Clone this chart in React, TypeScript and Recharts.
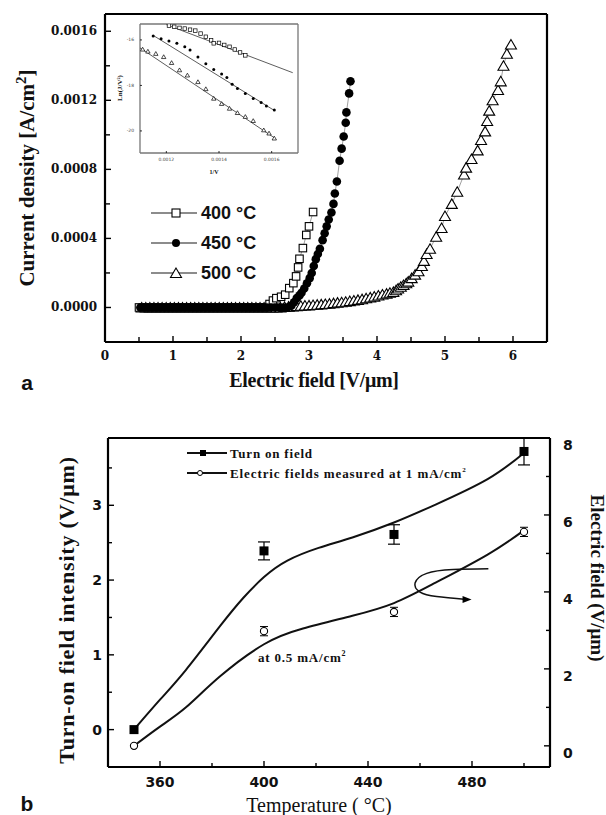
import React from 'react';
import {
  ScatterChart,
  Scatter,
  ComposedChart,
  Line,
  XAxis,
  YAxis,
  ReferenceLine,
  ErrorBar,
} from 'recharts';

// ---------- panel a: J-E curves, [field V/um, current density A/cm2] ----------
const curve400: [number, number][] = [
  [0.5, 0], [0.56, 0], [0.62, 0], [0.68, 0], [0.74, 0], [0.8, 0], [0.86, 0], [0.92, 0],
  [0.98, 0], [1.04, 0], [1.1, 0], [1.16, 0], [1.22, 0], [1.28, 0], [1.34, 0], [1.4, 0],
  [1.46, 0], [1.52, 0], [1.58, 0], [1.64, 0], [1.7, 0], [1.76, 0], [1.82, 0], [1.88, 0],
  [1.94, 0], [2.0, 0], [2.06, 0], [2.12, 0], [2.18, 0], [2.24, 0], [2.3, 0], [2.36, 0],
  [2.42, 0.00002], [2.47, 0.00004], [2.52, 0.000054], [2.59, 0.000062], [2.65, 0.000074],
  [2.71, 0.000112], [2.77, 0.000141], [2.81, 0.00018], [2.84, 0.000232], [2.86, 0.000282],
  [2.91, 0.000344], [2.96, 0.00042], [3.0, 0.00047], [3.06, 0.000553],
];

const curve450: [number, number][] = [
  [0.52, 0], [0.58, 0], [0.64, 0], [0.7, 0], [0.76, 0], [0.82, 0], [0.88, 0], [0.94, 0],
  [1.0, 0], [1.06, 0], [1.12, 0], [1.18, 0], [1.24, 0], [1.3, 0], [1.36, 0], [1.42, 0],
  [1.48, 0], [1.54, 0], [1.6, 0], [1.66, 0], [1.72, 0], [1.78, 0], [1.84, 0], [1.9, 0],
  [1.96, 0], [2.02, 0], [2.08, 0], [2.14, 0], [2.2, 0], [2.26, 0], [2.32, 0], [2.38, 0],
  [2.44, 0], [2.5, 0], [2.56, 0], [2.62, 0], [2.68, 0], [2.74, 0.00001],
  [2.78, 0.00003], [2.82, 0.000054], [2.86, 0.00007], [2.89, 0.000085], [2.93, 0.00011],
  [2.97, 0.00014], [3.01, 0.00017], [3.04, 0.0002], [3.07, 0.00024], [3.1, 0.00028],
  [3.13, 0.00031], [3.16, 0.00034], [3.2, 0.00039], [3.23, 0.00043], [3.26, 0.00047],
  [3.29, 0.00051], [3.33, 0.00055], [3.36, 0.0006], [3.38, 0.00066], [3.41, 0.00073],
  [3.45, 0.00085], [3.48, 0.00092], [3.51, 0.00099], [3.54, 0.00107], [3.55, 0.00113],
  [3.59, 0.00124], [3.61, 0.00131],
];

const curve500: [number, number][] = [
  [0.54, 0], [0.6, 0], [0.66, 0], [0.72, 0], [0.78, 0], [0.84, 0], [0.9, 0], [0.96, 0],
  [1.02, 0], [1.08, 0], [1.14, 0], [1.2, 0], [1.26, 0], [1.32, 0], [1.38, 0], [1.44, 0],
  [1.5, 0], [1.56, 0], [1.62, 0], [1.68, 0], [1.74, 0], [1.8, 0], [1.86, 0], [1.92, 0],
  [1.98, 0], [2.04, 0], [2.1, 0], [2.16, 0], [2.22, 0], [2.28, 0], [2.34, 0], [2.4, 0],
  [2.46, 0], [2.52, 0], [2.58, 0], [2.64, 0.000003], [2.7, 0.000005], [2.76, 0.000006],
  [2.82, 0.000008], [2.88, 0.00001], [2.94, 0.000011], [3.0, 0.000012], [3.06, 0.000014],
  [3.12, 0.000016], [3.18, 0.000018], [3.24, 0.00002], [3.3, 0.000022], [3.36, 0.000025],
  [3.42, 0.000028], [3.48, 0.00003], [3.54, 0.000033], [3.6, 0.000037], [3.66, 0.00004],
  [3.72, 0.000044], [3.78, 0.000048], [3.84, 0.000053], [3.9, 0.000058], [3.96, 0.000063],
  [4.02, 0.000069], [4.08, 0.000075], [4.14, 0.00008], [4.19, 0.000085], [4.24, 0.00009],
  [4.28, 0.0001], [4.31, 0.00011], [4.35, 0.00012], [4.39, 0.00013], [4.43, 0.00014],
  [4.46, 0.00015], [4.51, 0.00017], [4.56, 0.00019], [4.61, 0.00021], [4.66, 0.00024],
  [4.69, 0.00027], [4.73, 0.00031], [4.78, 0.00034], [4.87, 0.00041], [4.95, 0.00046],
  [5.0, 0.00053], [5.1, 0.0006], [5.18, 0.00067], [5.28, 0.00077], [5.31, 0.00081],
  [5.39, 0.00086], [5.48, 0.00091], [5.53, 0.00097], [5.59, 0.00102], [5.62, 0.00108],
  [5.65, 0.00114], [5.7, 0.0012], [5.78, 0.00126], [5.82, 0.00131], [5.86, 0.0014],
  [5.91, 0.00147], [5.97, 0.001523],
];

const fieldTicks = [0, 0.5, 1, 1.5, 2, 2.5, 3, 3.5, 4, 4.5, 5, 5.5, 6];
const currentTicks = [0, 0.0002, 0.0004, 0.0006, 0.0008, 0.001, 0.0012, 0.0014, 0.0016];

// inset: ln(J/V^2) vs 1/V
const fn400: [number, number][] = [
  [0.00121, -15.37], [0.00123, -15.42], [0.00125, -15.47], [0.00127, -15.5], [0.00129, -15.55],
  [0.00131, -15.59], [0.00133, -15.72], [0.00135, -15.86], [0.00137, -16.02], [0.00138, -16.15],
  [0.0014, -16.13], [0.00142, -16.22], [0.00144, -16.3], [0.00146, -16.42], [0.00148, -16.55],
  [0.0015, -16.68],
];
const fn450: [number, number][] = [
  [0.00115, -15.83], [0.00118, -15.95], [0.00121, -16.05], [0.00124, -16.15], [0.00127, -16.3],
  [0.00129, -16.44], [0.00132, -16.75], [0.00135, -17.05], [0.00138, -17.3], [0.00141, -17.5],
  [0.00143, -17.65], [0.00145, -17.95], [0.00147, -18.13], [0.0015, -18.35], [0.00153, -18.57],
  [0.00156, -18.75], [0.00158, -18.9], [0.00161, -19.08],
];
const fn500: [number, number][] = [
  [0.00111, -16.41], [0.00113, -16.5], [0.00116, -16.6], [0.00119, -16.74], [0.00122, -17.0],
  [0.00125, -17.32], [0.00128, -17.55], [0.00132, -17.84], [0.00135, -18.15], [0.00138, -18.57],
  [0.00141, -18.8], [0.00144, -19.01], [0.00147, -19.2], [0.0015, -19.37], [0.00153, -19.55],
  [0.00157, -19.96], [0.00159, -20.1], [0.00161, -20.32],
];
const fnFit400: [number, number][] = [[0.0012, -15.33], [0.00168, -17.44]];
const fnFit450: [number, number][] = [[0.00115, -15.8], [0.00161, -19.1]];
const fnFit500: [number, number][] = [[0.0011, -16.35], [0.00161, -20.3]];
const fnXTicks = [0.0012, 0.0014, 0.0016];
const fnYTicks = [-16, -18, -20];

// ---------- panel b: turn-on field vs temperature ----------
const temps = [350, 400, 450, 500];
const turnOn = [0, 2.39, 2.61, 3.72];
const turnOnErr = [0, 0.12, 0.13, 0.18];
const field1mA = [0, 2.98, 3.48, 5.56];
const field1mAErr = [0, 0.12, 0.12, 0.12];

const turnOnFit: [number, number][] = [
  [350, 0], [360, 0.4], [370, 0.8], [383, 1.38], [392, 1.76], [400, 2.04], [409, 2.26],
  [421, 2.43], [434, 2.57], [450, 2.77], [466, 3.01], [486, 3.35], [500, 3.7],
];
const fieldFit: [number, number][] = [
  [350, 0], [360, 0.5], [370, 1.0], [383, 1.8], [400, 2.64], [415, 3.05], [434, 3.38],
  [450, 3.71], [466, 4.24], [486, 4.97], [500, 5.6],
];
// hand-drawn loop arrow (left axis units)
const arrowPath: [number, number][] = [
  [486.3, 2.15], [472.8, 2.14], [462.6, 2.09], [458.1, 1.96], [460, 1.84], [466.4, 1.78], [477.9, 1.74],
];

const tempTicks = [360, 380, 400, 420, 440, 460, 480, 500];
const leftTicks = [0, 0.5, 1, 1.5, 2, 2.5, 3, 3.5];
const rightTicks = [0, 1, 2, 3, 4, 5, 6, 7, 8];

const xy = (pts: [number, number][]) => pts.map(([x, y]) => ({ x, y }));

const turnOnData = temps.map((x, i) => ({ x, y: turnOn[i], err: turnOnErr[i] }));
const field1mAData = temps.map((x, i) => ({ x, y: field1mA[i], err: field1mAErr[i] }));

// ---------- helpers ----------
// inward tick mark + label; recharts passes its own x/y/width, so stroke width is "lw"
function Tick(props: any) {
  const { x, y, payload, side, major, label, font, long = 7, short = 4, gap = 12, dy = 0, lw = 1.4 } = props;
  const v = payload.value;
  const isMajor = major(v);
  const len = isMajor ? long : short;
  const text = isMajor && label ? label(v) : null;
  if (side === 'bottom') {
    return (
      <g>
        <line x1={x} x2={x} y1={y} y2={y - len} stroke="#000" strokeWidth={lw} />
        {text !== null && (
          <text x={x} y={y + gap} textAnchor="middle" dominantBaseline="central" style={font}>{text}</text>
        )}
      </g>
    );
  }
  if (side === 'left') {
    return (
      <g>
        <line x1={x} x2={x + len} y1={y} y2={y} stroke="#000" strokeWidth={lw} />
        {text !== null && (
          <text x={x - gap} y={y + dy} textAnchor="end" dominantBaseline="central" style={font}>{text}</text>
        )}
      </g>
    );
  }
  return (
    <g>
      <line x1={x} x2={x - len} y1={y} y2={y} stroke="#000" strokeWidth={lw} />
      {text !== null && (
        <text x={x + gap} y={y + dy} textAnchor="start" dominantBaseline="central" style={font}>{text}</text>
      )}
    </g>
  );
}

const openSquare = (s: number, w = 1.1) => (p: any) => (
  <rect x={p.cx - s / 2} y={p.cy - s / 2} width={s} height={s} fill="#fff" stroke="#000" strokeWidth={w} />
);
const filledSquare = (s: number) => (p: any) => (
  <rect x={p.cx - s / 2} y={p.cy - s / 2} width={s} height={s} fill="#000" />
);
const filledCircle = (r: number) => (p: any) => <circle cx={p.cx} cy={p.cy} r={r} fill="#000" />;
const openCircle = (r: number, w = 1.1) => (p: any) => (
  <circle cx={p.cx} cy={p.cy} r={r} fill="#fff" stroke="#000" strokeWidth={w} />
);
const openTriangle = (s: number, w = 1.1) => (p: any) => (
  <polygon
    points={`${p.cx},${p.cy - s * 0.5} ${p.cx - s * 0.55},${p.cy + s * 0.45} ${p.cx + s * 0.55},${p.cy + s * 0.45}`}
    fill="#fff"
    stroke="#000"
    strokeWidth={w}
  />
);
const noShape = () => <g />;
const arrowHead = (p: any) => (
  <polygon points={`${p.cx + 5},${p.cy} ${p.cx - 4},${p.cy - 3.5} ${p.cx - 4},${p.cy + 3.5}`} fill="#000" />
);

const Txt = ({ x, y, rotate = 0, left = false, style, children }: any) => (
  <div
    style={{
      position: 'absolute',
      left: x,
      top: y,
      transform: `translate(${left ? '0' : '-50%'}, -50%) rotate(${rotate}deg)`,
      whiteSpace: 'nowrap',
      lineHeight: 1,
      ...style,
    }}
  >
    {children}
  </div>
);

const serifBold = { fontFamily: '"Liberation Serif", serif', fontWeight: 700, color: '#111' };
const serif = { fontFamily: '"Liberation Serif", serif', fontWeight: 400, color: '#111' };
const aTick = { fontFamily: '"DejaVu Serif", serif', fontWeight: 700, fontSize: 12, fill: '#111' };
const bTick = { fontFamily: '"DejaVu Sans", sans-serif', fontWeight: 700, fontSize: 14, fill: '#111' };
const inTick = { fontFamily: '"DejaVu Sans", sans-serif', fontSize: 4.5, fill: '#444' };

const LegendMark = ({ kind, w = 48, mx = 26, size = 8, stroke = '#666', sw = 1.5 }: any) => (
  <svg width={w} height={14} style={{ display: 'block' }}>
    <line x1={0} x2={w} y1={7} y2={7} stroke={stroke} strokeWidth={sw} />
    {kind === 'square' && (
      <rect x={mx - size / 2} y={7 - size / 2} width={size} height={size} fill="#fff" stroke="#000" strokeWidth={1.1} />
    )}
    {kind === 'fsquare' && <rect x={mx - size / 2} y={7 - size / 2} width={size} height={size} fill="#000" />}
    {kind === 'circle' && <circle cx={mx} cy={7} r={size / 2} fill="#000" />}
    {kind === 'ocircle' && <circle cx={mx} cy={7} r={size / 2} fill="#fff" stroke="#000" strokeWidth={1} />}
    {kind === 'triangle' && (
      <polygon
        points={`${mx},${7 - size * 0.5} ${mx - size * 0.55},${7 + size * 0.45} ${mx + size * 0.55},${7 + size * 0.45}`}
        fill="#fff"
        stroke="#000"
        strokeWidth={1.1}
      />
    )}
  </svg>
);

const frame = (w: number, c = '#000') => ({ stroke: c, strokeWidth: w });
const axisBase = { tickLine: false, tickSize: 0, tickMargin: 0, interval: 0 as const, allowDataOverflow: true };

function PanelA() {
  const line = { stroke: '#777', strokeWidth: 0.7 };
  return (
    <div style={{ position: 'absolute', left: 0, top: 0 }}>
      <ScatterChart width={606} height={420} margin={{ top: 14, right: 59, bottom: 48, left: 45 }}>
        <XAxis
          {...axisBase}
          axisLine={frame(2.2)}
          type="number"
          dataKey="x"
          domain={[0, 6.5]}
          ticks={fieldTicks}
          height={30}
          tick={
            <Tick side="bottom" font={aTick} gap={14} long={6} short={5}
              major={(v: number) => Math.abs(v - Math.round(v)) < 1e-6} label={(v: number) => String(v)} />
          }
        />
        <YAxis
          {...axisBase}
          axisLine={frame(2.2)}
          type="number"
          dataKey="y"
          domain={[-0.0002, 0.0017]}
          ticks={currentTicks}
          width={60}
          tick={
            <Tick side="left" font={aTick} gap={8} long={6} short={5}
              major={(v: number) => Math.round(v / 0.0002) % 2 === 0} label={(v: number) => v.toFixed(4)} />
          }
        />
        <ReferenceLine y={0.0017} stroke="#000" strokeWidth={2.2} />
        <ReferenceLine x={6.5} stroke="#000" strokeWidth={2.2} />
        <Scatter data={xy(curve500)} line={line} shape={openTriangle(10)} isAnimationActive={false} />
        <Scatter data={xy(curve400)} line={line} shape={openSquare(7.5)} isAnimationActive={false} />
        <Scatter data={xy(curve450)} line={line} shape={filledCircle(4.3)} isAnimationActive={false} />
      </ScatterChart>

      {/* inset */}
      <div style={{ position: 'absolute', left: 100, top: 14 }}>
        <ScatterChart width={210} height={170} margin={{ top: 10, right: 12, bottom: 17, left: 26 }}>
          <XAxis
            {...axisBase}
            axisLine={frame(1.3, '#777')}
            type="number"
            dataKey="x"
            domain={[0.0011, 0.0017]}
            ticks={fnXTicks}
            height={14}
            tick={<Tick side="bottom" font={inTick} gap={6} long={2} short={2} lw={0.8} major={() => true} label={(v: number) => v.toFixed(4)} />}
          />
          <YAxis
            {...axisBase}
            axisLine={frame(1.3, '#777')}
            type="number"
            dataKey="y"
            domain={[-20.97, -15.3]}
            ticks={fnYTicks}
            width={14}
            tick={<Tick side="left" font={inTick} gap={6} long={2} short={2} lw={0.8} major={() => true} label={(v: number) => String(v)} />}
          />
          <ReferenceLine y={-15.3} stroke="#777" strokeWidth={1.3} />
          <ReferenceLine x={0.0017} stroke="#777" strokeWidth={1.3} />
          <Scatter data={xy(fnFit400)} line={{ stroke: '#333', strokeWidth: 0.8 }} shape={noShape} isAnimationActive={false} />
          <Scatter data={xy(fnFit450)} line={{ stroke: '#333', strokeWidth: 0.8 }} shape={noShape} isAnimationActive={false} />
          <Scatter data={xy(fnFit500)} line={{ stroke: '#333', strokeWidth: 0.8 }} shape={noShape} isAnimationActive={false} />
          <Scatter data={xy(fn400)} shape={openSquare(3.5, 0.7)} isAnimationActive={false} />
          <Scatter data={xy(fn450)} shape={filledCircle(1.5)} isAnimationActive={false} />
          <Scatter data={xy(fn500)} shape={openTriangle(4, 0.7)} isAnimationActive={false} />
        </ScatterChart>
      </div>
      <Txt x={120} y={88} rotate={-90} style={{ ...serifBold, fontSize: 7 }}>Ln(J/V²)</Txt>
      <Txt x={214} y={172} style={{ ...serifBold, fontSize: 6 }}>1/V</Txt>

      {/* legend */}
      {[
        { kind: 'square', text: '400', y: 213 },
        { kind: 'circle', text: '450', y: 243 },
        { kind: 'triangle', text: '500', y: 273 },
      ].map((r) => (
        <React.Fragment key={r.text}>
          <div style={{ position: 'absolute', left: 151, top: r.y - 7 }}>
            <LegendMark kind={r.kind} w={46} mx={25} size={r.kind === 'triangle' ? 10 : 8} />
          </div>
          <Txt x={201} y={r.y} left style={{ fontFamily: '"Liberation Sans", sans-serif', fontWeight: 700, fontSize: 18, color: '#111' }}>
            {r.text} °C
          </Txt>
        </React.Fragment>
      ))}

      <Txt x={26} y={178} rotate={-90} style={{ ...serifBold, fontSize: 21 }}>
        Current density [A/cm<sup style={{ fontSize: 15 }}>2</sup>]
      </Txt>
      <Txt x={314} y={380} style={{ ...serif, fontSize: 20, fontWeight: 700, letterSpacing: -0.3 }}>Electric field [V/μm]</Txt>
      <Txt x={27} y={382} style={{ fontFamily: '"Liberation Sans", sans-serif', fontWeight: 700, fontSize: 21, color: '#111' }}>a</Txt>
    </div>
  );
}

function PanelB() {
  return (
    <div style={{ position: 'absolute', left: 0, top: 420 }}>
      <ComposedChart width={606} height={395} margin={{ top: 18, right: 16, bottom: 18, left: 58 }}>
        <XAxis
          {...axisBase}
          axisLine={frame(2.2)}
          type="number"
          dataKey="x"
          domain={[340, 510]}
          ticks={tempTicks}
          height={30}
          tick={
            <Tick side="bottom" font={bTick} gap={15} long={6} short={4}
              major={(v: number) => (v - 360) % 40 === 0} label={(v: number) => String(v)} />
          }
        />
        <YAxis
          {...axisBase}
          axisLine={frame(2.2)}
          yAxisId="left"
          type="number"
          dataKey="y"
          domain={[-0.5, 3.9]}
          ticks={leftTicks}
          width={50}
          tick={
            <Tick side="left" font={bTick} gap={6} long={6} short={4}
              major={(v: number) => Number.isInteger(v)} label={(v: number) => String(v)} />
          }
        />
        <YAxis
          {...axisBase}
          axisLine={frame(2.2)}
          yAxisId="right"
          orientation="right"
          type="number"
          dataKey="y"
          domain={[-0.55, 8]}
          ticks={rightTicks}
          width={40}
          tick={
            <Tick side="right" font={bTick} gap={13} dy={7} long={6} short={4}
              major={(v: number) => v % 2 === 0} label={(v: number) => String(v)} />
          }
        />
        <ReferenceLine yAxisId="left" y={3.9} stroke="#000" strokeWidth={2.2} />
        <Line yAxisId="left" data={xy(turnOnFit)} dataKey="y" type="natural" stroke="#111" strokeWidth={2} dot={false} activeDot={false} isAnimationActive={false} />
        <Line yAxisId="right" data={xy(fieldFit)} dataKey="y" type="natural" stroke="#111" strokeWidth={2} dot={false} activeDot={false} isAnimationActive={false} />
        <Line yAxisId="left" data={xy(arrowPath)} dataKey="y" type="natural" stroke="#111" strokeWidth={1.5} dot={false} activeDot={false} isAnimationActive={false} />
        <Scatter yAxisId="left" data={xy(arrowPath.slice(-1))} shape={arrowHead} isAnimationActive={false} />
        <Scatter yAxisId="left" data={turnOnData} shape={filledSquare(9)} isAnimationActive={false}>
          <ErrorBar dataKey="err" direction="y" width={6} stroke="#000" strokeWidth={1.2} />
        </Scatter>
        <Scatter yAxisId="right" data={field1mAData} shape={openCircle(3.6)} isAnimationActive={false}>
          <ErrorBar dataKey="err" direction="y" width={4} stroke="#000" strokeWidth={1} />
        </Scatter>
      </ComposedChart>

      {/* legend */}
      <div style={{ position: 'absolute', left: 187, top: 453 - 420 - 7 }}>
        <LegendMark kind="fsquare" w={40} mx={16} size={6} stroke="#111" sw={2} />
      </div>
      <Txt x={230} y={453 - 420} left style={{ ...serifBold, fontSize: 13, letterSpacing: 0.8 }}>Turn on field</Txt>
      <div style={{ position: 'absolute', left: 187, top: 473 - 420 - 7 }}>
        <LegendMark kind="ocircle" w={40} mx={13} size={5} stroke="#111" sw={2} />
      </div>
      <Txt x={230} y={473 - 420} left style={{ ...serifBold, fontSize: 13, letterSpacing: 0.9 }}>
        Electric fields measured at 1 mA/cm<sup style={{ fontSize: 7 }}>2</sup>
      </Txt>
      <Txt x={258} y={657 - 420} left style={{ ...serifBold, fontSize: 13, letterSpacing: 0.8 }}>
        at 0.5 mA/cm<sup style={{ fontSize: 8 }}>2</sup>
      </Txt>

      <Txt x={67} y={610 - 420} rotate={-90} style={{ ...serifBold, fontSize: 22, letterSpacing: 0.8 }}>
        Turn-on field intensity (V/μm)
      </Txt>
      <Txt x={597} y={578 - 420} rotate={90} style={{ ...serif, fontSize: 19, fontWeight: 700 }}>
        Electric field (V/μm)
      </Txt>
      <Txt x={319} y={805 - 420} style={{ ...serif, fontSize: 20 }}>Temperature ( °C)</Txt>
      <Txt x={27} y={803 - 420} style={{ fontFamily: '"Liberation Sans", sans-serif', fontWeight: 700, fontSize: 21, color: '#111' }}>b</Txt>
    </div>
  );
}

export default function App() {
  return (
    <div style={{ position: 'absolute', left: 0, top: 0, width: 606, height: 815, background: '#fff', overflow: 'hidden' }}>
      <PanelA />
      <PanelB />
    </div>
  );
}
